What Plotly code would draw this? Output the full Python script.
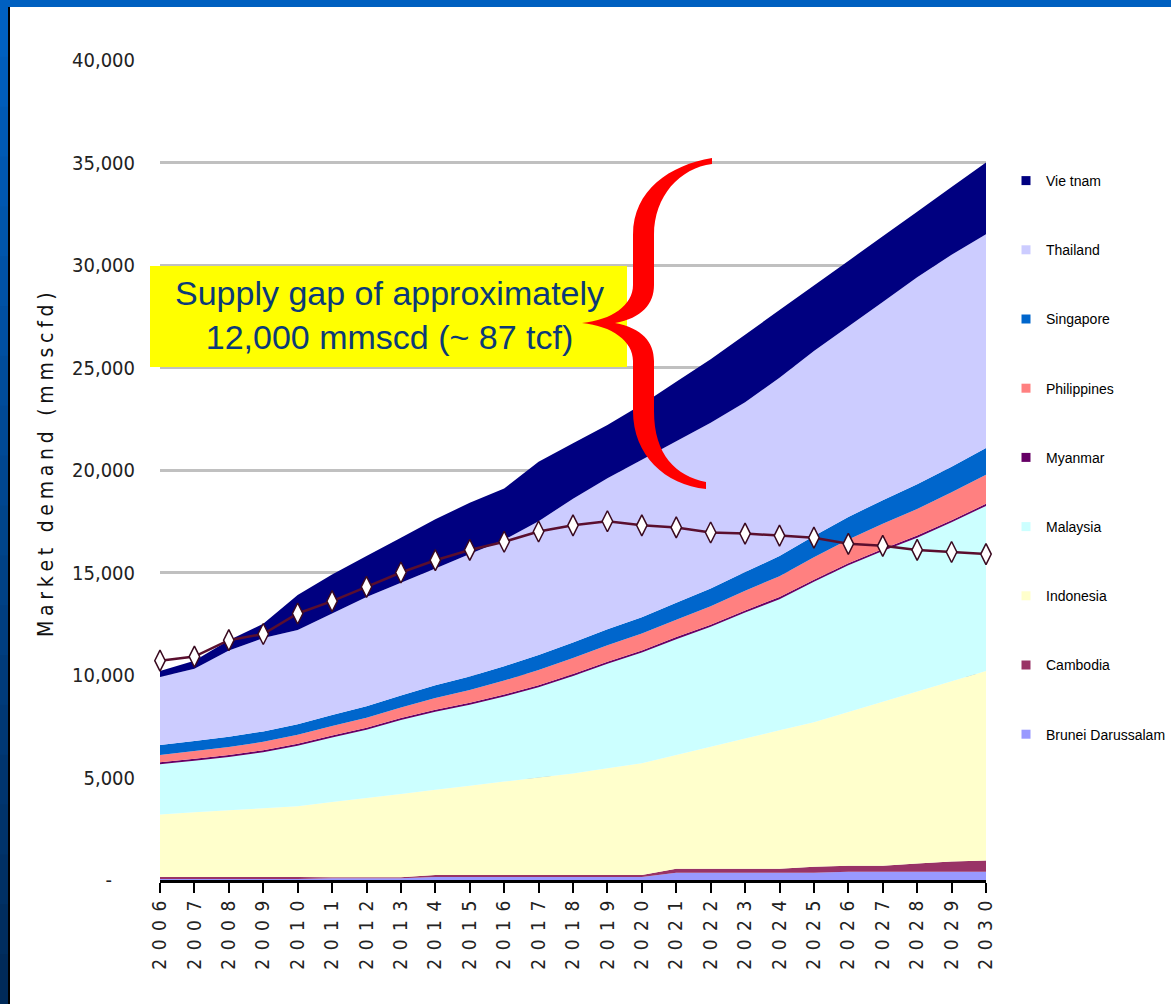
import plotly.graph_objects as go

years = list(range(2006, 2031))

brunei = [50, 50, 50, 50, 50, 80, 80, 80, 150, 150, 150, 150, 150, 150, 150,
          350, 350, 350, 350, 350, 400, 400, 400, 400, 400]
cambodia = [100, 100, 100, 100, 100, 50, 50, 50, 100, 100, 100, 100, 100, 100, 100,
            200, 200, 200, 200, 300, 300, 300, 400, 500, 550]
indonesia = [3050, 3150, 3250, 3350, 3450, 3670, 3870, 4070, 4150, 4350, 4550, 4750, 4950,
             5200, 5450, 5550, 5950, 6350, 6750, 7050, 7500, 8000, 8400, 8800, 9250]
malaysia = [2450, 2520, 2600, 2730, 2950, 3150, 3330, 3600, 3810, 3950, 4150, 4400, 4750,
            5100, 5400, 5650, 5850, 6150, 6400, 6850, 7150, 7350, 7500, 7750, 8050]
myanmar = [100] * 25
philippines = [350, 370, 390, 410, 430, 460, 490, 520, 570, 620, 680, 740, 780,
               800, 820, 850, 900, 960, 1020, 1090, 1160, 1230, 1300, 1360, 1420]
singapore = [480, 490, 500, 510, 520, 540, 560, 580, 620, 660, 700, 740, 760,
             780, 800, 820, 870, 920, 980, 1040, 1100, 1150, 1200, 1250, 1300]
thailand = [3320, 3520, 4210, 4550, 4600, 4950, 5320, 5500, 5700, 5970, 6170, 6520, 7010,
            7370, 7680, 7880, 8080, 8270, 8700, 9020, 9290, 9670, 10100, 10340, 10430]
vietnam = [300, 400, 500, 700, 1700, 1900, 2000, 2200, 2400, 2500, 2500, 2900, 2700,
           2600, 2700, 2900, 3100, 3300, 3300, 3200, 3200, 3200, 3200, 3300, 3500]
supply = [10700, 10900, 11700, 12000, 13000, 13600, 14300, 15000, 15600, 16100, 16500,
          17000, 17300, 17500, 17300, 17200, 16950, 16900, 16800, 16700, 16400, 16300,
          16100, 16000, 15900]

series_names = ["Brunei Darussalam", "Cambodia", "Indonesia", "Malaysia", "Myanmar",
                "Philippines", "Singapore", "Thailand", "Vietnam"]
legend_labels = ["Brunei Darussalam", "Cambodia", "Indonesia", "Malaysia", "Myanmar",
                 "Philippines", "Singapore", "Thailand", "Vie tnam"]
series_values = [brunei, cambodia, indonesia, malaysia, myanmar, philippines,
                 singapore, thailand, vietnam]
series_colors = ["#9999FF", "#993366", "#FFFFCC", "#CCFFFF", "#660066", "#FF8080",
                 "#0066CC", "#CCCCFF", "#000080"]

y_ticks = [0, 5000, 10000, 15000, 20000, 25000, 30000, 35000, 40000]
y_ticktext = ["-\u2007\u2007", "5,000", "10,000", "15,000", "20,000", "25,000",
              "30,000", "35,000", "40,000"]
x_ticktext = ["\u2002".join(str(y)) for y in years]

y_title = "Market demand (mmscfd)"
box_text = "Supply gap of approximately<br>12,000 mmscd (~ 87 tcf)"

NARROW = "Liberation Sans Narrow, Arial Narrow, DejaVu Sans Condensed, Liberation Sans, Arial, sans-serif"

# plot area in pixels: x 160..986, y 60..880
L, R, T, B = 160, 986, 60, 880


def px(x):
    return (x - L) / (R - L)


def py(y):
    return (B - y) / (B - T)


fig = go.Figure()

for name, vals, col in zip(series_names, series_values, series_colors):
    fig.add_trace(go.Scatter(
        x=years, y=vals, name=name, stackgroup="demand", mode="none",
        fill="tonexty", fillcolor=col, line=dict(width=0), showlegend=False,
    ))

fig.add_trace(go.Scatter(
    x=years, y=supply, name="Supply", mode="lines+markers", showlegend=False,
    line=dict(color="#5a0f2e", width=2.5),
    marker=dict(symbol="diamond-tall", size=15, color="white",
                line=dict(color="#3a0a20", width=1.5)),
    cliponaxis=False,
))

# legend entries (top to bottom: Vietnam ... Brunei)
for name, label, col in reversed(list(zip(series_names, legend_labels, series_colors))):
    fig.add_trace(go.Scatter(
        x=[None], y=[None], mode="markers", name=label, legendgroup=name,
        marker=dict(symbol="square", size=9, color=col),
    ))

shapes = []
# white slide area
shapes.append(dict(type="rect", xref="paper", yref="paper", x0=px(10), x1=px(1200),
                   y0=py(1020), y1=py(7), fillcolor="white", line=dict(width=0),
                   layer="below"))
# left gradient strip
n = 20
top_c = (0, 96, 192)
bot_c = (0, 42, 90)
for i in range(n):
    t = i / (n - 1)
    c = tuple(int(round(a + (b - a) * t)) for a, b in zip(top_c, bot_c))
    y0 = 7 + (1004 - 7) * i / n
    y1 = 7 + (1004 - 7) * (i + 1) / n
    shapes.append(dict(type="rect", xref="paper", yref="paper", x0=px(-2), x1=px(8),
                       y0=py(y1 + 1), y1=py(y0), fillcolor="rgb(%d,%d,%d)" % c,
                       line=dict(width=0), layer="below"))
# black edge line
shapes.append(dict(type="rect", xref="paper", yref="paper", x0=px(8), x1=px(10),
                   y0=py(1010), y1=py(7), fillcolor="black", line=dict(width=0),
                   layer="below"))
# yellow text box
shapes.append(dict(type="rect", xref="paper", yref="paper", x0=px(150), x1=px(627),
                   y0=py(367), y1=py(266), fillcolor="#FFFF00", line=dict(width=0),
                   layer="above"))

# red brace drawn as filled path (pixel coords converted to paper)
brace_pts = [
    ("M", [(712, 158)]),
    ("C", [(670, 165), (633, 190), (633, 235)]),
    ("L", [(633, 285)]),
    ("C", [(633, 305), (612, 320), (582, 323)]),
    ("C", [(612, 326), (633, 341), (633, 361)]),
    ("L", [(633, 411)]),
    ("C", [(633, 455), (665, 485), (706, 489)]),
    ("L", [(706, 482)]),
    ("C", [(676, 476), (654, 455), (654, 411)]),
    ("L", [(654, 361)]),
    ("C", [(654, 342), (642, 328), (615, 323)]),
    ("C", [(642, 318), (654, 304), (654, 285)]),
    ("L", [(654, 235)]),
    ("C", [(654, 196), (680, 168), (712, 164)]),
]
path = ""
for cmd, pts in brace_pts:
    path += cmd + " ".join("%.5f,%.5f" % (px(x), py(y)) for x, y in pts) + " "
path += "Z"
shapes.append(dict(type="path", xref="paper", yref="paper", path=path,
                   fillcolor="#FF0000", line=dict(width=0), layer="above"))

annotations = [
    dict(xref="paper", yref="paper", x=px(389), y=py(315), text=box_text,
         showarrow=False, align="center", xanchor="center", yanchor="middle",
         font=dict(family="Liberation Sans, Arial, sans-serif", size=34, color="#0b3a78")),
    dict(xref="paper", yref="paper", x=px(46), y=py(465),
         text="\u2005".join(y_title), textangle=-90, showarrow=False,
         xanchor="center", yanchor="middle",
         font=dict(family=NARROW, size=21, color="#111111")),
]

fig.update_layout(
    width=1171, height=1004, autosize=False,
    margin=dict(l=L, r=1171 - R, t=T, b=1004 - B, pad=0, autoexpand=False),
    paper_bgcolor="#0060C0", plot_bgcolor="rgba(0,0,0,0)",
    shapes=shapes, annotations=annotations,
    showlegend=True,
    legend=dict(x=px(1006), y=py(165), xanchor="left", yanchor="top",
                traceorder="grouped", tracegroupgap=48, bgcolor="rgba(0,0,0,0)",
                font=dict(family="Liberation Sans, Arial, sans-serif", size=14,
                          color="#000000"),
                itemclick=False),
    xaxis=dict(range=[2006, 2030], tickmode="array", tickvals=years, ticktext=x_ticktext,
               tickangle=-90, ticks="outside", ticklen=10, tickwidth=2, tickcolor="black",
               showline=True, linecolor="black", linewidth=3, showgrid=False,
               zeroline=False,
               tickfont=dict(family=NARROW, size=19, color="#222222")),
    yaxis=dict(range=[0, 40000], tickmode="array", tickvals=y_ticks, ticktext=y_ticktext,
               showgrid=True, gridcolor="#C0C0C0", gridwidth=3, zeroline=False,
               showline=False, ticks="", ticklabelstandoff=24,
               tickfont=dict(family=NARROW, size=20, color="#222222")),
)

fig.write_html("out.html")
